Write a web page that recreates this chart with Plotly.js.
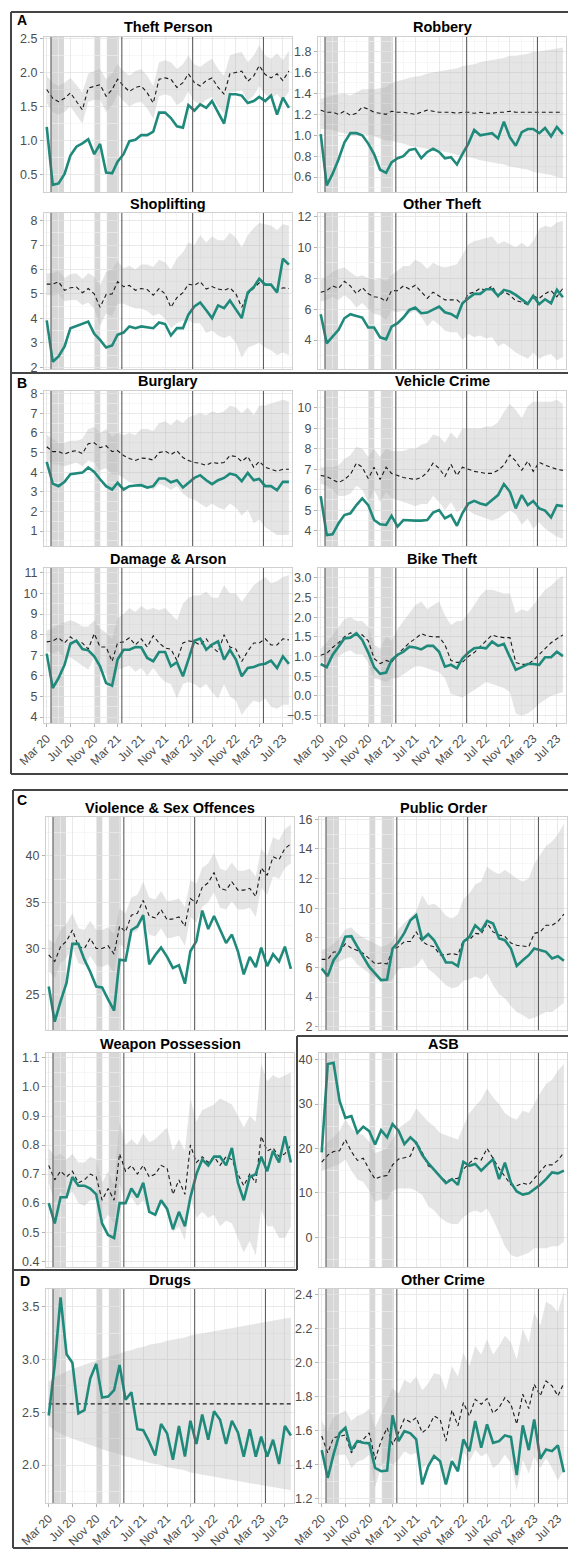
<!DOCTYPE html>
<html><head><meta charset="utf-8">
<script src="https://cdn.plot.ly/plotly-3.0.1.min.js"></script>
<style>html,body{margin:0;padding:0;background:#fff}#chart{width:568px;height:1550px}</style>
</head><body><div id="chart"></div>
<script>
const months = ['2020-03-01','2020-04-01','2020-05-01','2020-06-01','2020-07-01','2020-08-01','2020-09-01','2020-10-01','2020-11-01','2020-12-01',
 '2021-01-01','2021-02-01','2021-03-01','2021-04-01','2021-05-01','2021-06-01','2021-07-01','2021-08-01','2021-09-01','2021-10-01','2021-11-01','2021-12-01',
 '2022-01-01','2022-02-01','2022-03-01','2022-04-01','2022-05-01','2022-06-01','2022-07-01','2022-08-01','2022-09-01','2022-10-01','2022-11-01','2022-12-01',
 '2023-01-01','2023-02-01','2023-03-01','2023-04-01','2023-05-01','2023-06-01','2023-07-01','2023-08-01'];
const xTickVals = ['2020-03-01','2020-07-01','2020-11-01','2021-03-01','2021-07-01','2021-11-01','2022-03-01','2022-07-01','2022-11-01','2023-03-01','2023-07-01'];
const xTickText = ['Mar 20','Jul 20','Nov 20','Mar 21','Jul 21','Nov 21','Mar 22','Jul 22','Nov 22','Mar 23','Jul 23'];
const xMinorVals = ['2020-05-01','2020-09-01','2021-01-01','2021-05-01','2021-09-01','2022-01-01','2022-05-01','2022-09-01','2023-01-01','2023-05-01'];
const lockdownStart = ['2020-03-23','2020-11-05','2021-01-06'];
const lockdownEnd = ['2020-05-29','2020-12-02','2021-03-08'];
const markerDates = ['2020-03-23','2021-03-23','2022-03-23','2023-03-23'];

const theftPersonObs = [1.20,0.35,0.37,0.51,0.78,0.91,0.96,1.02,0.80,0.95,0.53,0.52,0.69,0.80,0.99,1.01,1.08,1.08,1.13,1.41,1.41,1.33,1.21,1.19,1.52,1.44,1.53,1.48,1.58,1.41,1.25,1.68,1.68,1.66,1.55,1.58,1.64,1.58,1.66,1.38,1.63,1.48];
const theftPersonPred = [1.75,1.62,1.57,1.62,1.70,1.58,1.45,1.77,1.80,1.82,1.65,1.75,1.90,1.80,1.72,1.78,1.80,1.70,1.55,1.90,1.92,1.90,1.78,1.85,1.98,1.85,1.80,1.88,1.92,1.78,1.68,1.98,2.00,2.02,1.87,1.95,2.10,1.97,1.92,1.98,1.88,2.02];
const theftPersonHi = [1.95,1.85,1.80,1.85,1.92,1.82,1.70,1.98,2.02,2.05,1.90,1.98,2.12,2.02,1.95,2.02,2.05,1.95,1.80,2.15,2.18,2.15,2.05,2.12,2.25,2.12,2.08,2.15,2.20,2.05,1.95,2.25,2.28,2.30,2.15,2.25,2.40,2.25,2.20,2.28,2.18,2.32];
const theftPersonLo = [1.55,1.42,1.38,1.42,1.50,1.38,1.25,1.57,1.60,1.60,1.42,1.52,1.68,1.58,1.50,1.55,1.57,1.47,1.32,1.65,1.68,1.65,1.52,1.58,1.72,1.58,1.52,1.60,1.64,1.50,1.40,1.70,1.72,1.74,1.58,1.66,1.80,1.68,1.62,1.68,1.58,1.72];

const robberyObs = [1.01,0.52,0.63,0.77,0.93,1.02,1.02,1.00,0.92,0.82,0.67,0.64,0.74,0.78,0.80,0.86,0.87,0.78,0.84,0.87,0.84,0.78,0.79,0.72,0.82,0.92,1.05,1.00,1.01,1.02,0.97,1.13,0.98,0.90,1.03,1.06,1.06,1.02,1.07,0.99,1.08,1.01];
const robberyPred = [1.24,1.22,1.22,1.20,1.23,1.19,1.21,1.27,1.25,1.22,1.21,1.20,1.23,1.22,1.22,1.21,1.20,1.22,1.24,1.23,1.22,1.22,1.22,1.21,1.22,1.22,1.21,1.22,1.21,1.21,1.22,1.22,1.23,1.22,1.22,1.22,1.22,1.22,1.22,1.22,1.22,1.22];
const robberyHi = [1.35,1.36,1.38,1.39,1.40,1.38,1.41,1.44,1.44,1.44,1.45,1.46,1.50,1.52,1.53,1.55,1.56,1.57,1.59,1.60,1.61,1.62,1.63,1.64,1.66,1.67,1.68,1.70,1.71,1.72,1.73,1.74,1.76,1.76,1.77,1.78,1.80,1.80,1.81,1.82,1.83,1.84];
const robberyLo = [1.06,1.06,1.05,1.03,1.02,1.00,1.00,1.02,1.00,0.99,0.97,0.95,0.95,0.93,0.92,0.90,0.89,0.88,0.87,0.86,0.85,0.84,0.83,0.81,0.80,0.79,0.78,0.76,0.75,0.74,0.73,0.72,0.70,0.69,0.68,0.67,0.65,0.64,0.63,0.62,0.60,0.59];

const shopliftingObs = [3.92,2.23,2.44,2.85,3.60,3.70,3.78,3.87,3.37,3.12,2.81,2.89,3.33,3.42,3.67,3.60,3.67,3.63,3.60,3.83,3.77,3.30,3.60,3.60,4.15,4.49,4.65,4.33,4.01,4.53,4.42,4.73,4.38,4.01,5.06,5.28,5.62,5.38,5.38,5.06,6.44,6.20];
const shopliftingPred = [5.40,5.40,5.50,5.15,5.25,5.28,5.05,5.22,5.00,4.45,4.98,5.00,5.50,5.30,5.35,5.15,5.22,5.18,4.95,5.22,5.00,4.45,4.85,5.05,5.40,5.35,5.50,5.20,5.30,5.20,5.15,5.25,5.00,4.45,5.00,5.25,5.45,5.40,5.35,5.15,5.25,5.22];
const shopliftingHi = [5.85,5.85,5.95,5.65,5.80,5.85,5.60,5.85,5.70,5.35,5.90,6.00,6.35,6.05,6.15,6.00,6.20,6.20,6.10,6.40,6.30,6.00,6.45,6.70,7.10,7.00,7.40,7.10,7.35,7.20,7.20,7.50,7.30,6.90,7.40,7.70,7.90,7.85,7.80,7.60,7.85,7.80];
const shopliftingLo = [4.95,4.95,5.00,4.70,4.75,4.75,4.55,4.65,4.40,3.70,4.20,4.10,4.60,4.60,4.50,4.40,4.40,4.30,4.10,4.20,4.00,3.60,3.80,3.90,3.90,3.80,3.80,3.40,3.50,3.30,3.20,3.30,3.00,2.40,2.80,2.90,3.00,2.80,2.70,2.50,2.60,2.50];

const otherTheftObs = [5.67,3.79,4.22,4.66,5.41,5.67,5.56,5.46,4.81,4.81,4.18,4.05,4.87,5.09,5.46,5.95,6.10,5.74,5.78,5.95,6.17,5.80,5.69,5.46,6.38,6.71,6.99,6.99,7.29,7.29,6.86,7.25,7.14,6.92,6.60,6.34,6.86,6.32,6.64,6.38,7.25,6.77];
const otherTheftPred = [7.10,7.20,7.50,7.35,7.80,7.50,7.00,7.40,7.00,6.80,6.75,6.50,7.20,7.20,7.50,7.30,7.55,7.15,6.70,7.10,6.85,6.60,6.60,6.60,6.30,7.00,7.10,7.35,7.20,7.50,6.80,7.15,6.90,6.55,6.45,6.30,6.85,6.70,7.00,7.20,6.80,7.35];
const otherTheftHi = [7.90,8.10,8.40,8.60,8.70,8.40,8.10,8.20,8.00,7.90,8.00,7.80,8.20,8.50,8.80,8.80,9.20,9.00,8.60,9.00,8.80,8.70,8.80,8.90,9.50,10.20,10.40,10.50,10.60,10.70,10.20,10.40,10.20,10.00,10.30,10.00,10.40,11.20,11.40,11.30,11.60,11.70];
const otherTheftLo = [6.50,6.60,6.80,6.60,6.90,6.60,6.10,6.40,6.00,5.70,5.60,5.30,5.90,5.80,5.90,5.70,5.90,5.50,4.90,5.30,5.00,4.60,4.50,4.50,4.00,4.40,4.20,4.30,4.10,4.20,3.60,3.80,3.50,3.20,3.00,2.80,3.20,2.80,3.00,3.10,2.70,2.90];

const burglaryObs = [4.53,3.42,3.29,3.51,3.90,3.93,3.98,4.24,4.02,3.64,3.29,3.12,3.46,3.12,3.29,3.32,3.34,3.22,3.29,3.68,3.68,3.49,3.59,3.22,3.46,3.71,3.85,3.59,3.39,3.59,3.71,3.93,3.85,3.54,3.97,3.59,3.66,3.29,3.29,3.08,3.51,3.51];
const burglaryPred = [5.30,5.05,5.05,4.92,5.05,5.10,4.95,5.45,5.50,5.25,5.35,5.05,5.10,4.85,4.70,4.60,4.72,4.70,4.62,5.00,5.08,4.90,5.10,4.75,4.60,4.50,4.45,4.35,4.50,4.45,4.50,4.85,4.80,4.55,4.80,4.25,4.55,4.25,4.15,4.05,4.15,4.15];
const burglaryHi = [5.90,5.70,5.50,5.50,5.60,5.60,5.70,6.20,6.30,6.00,6.20,5.80,6.00,5.90,6.00,5.90,6.20,6.20,6.10,6.50,6.60,6.40,6.70,6.50,6.80,6.90,7.00,6.90,7.10,7.00,7.10,7.40,7.30,7.00,7.30,6.90,7.40,7.40,7.50,7.60,7.70,7.60];
const burglaryLo = [4.60,4.40,4.40,4.30,4.40,4.50,4.30,4.60,4.50,4.10,4.20,3.90,3.90,3.70,3.50,3.40,3.40,3.30,3.10,3.40,3.30,3.10,3.30,2.90,2.70,2.60,2.40,2.20,2.40,2.20,2.10,2.40,2.20,1.80,2.10,1.40,1.60,1.20,1.00,0.80,0.80,0.80];

const vehicleObs = [5.69,3.79,3.82,4.36,4.76,4.85,5.25,5.58,5.25,4.52,4.31,4.28,4.72,4.20,4.52,4.49,4.49,4.49,4.52,4.88,5.01,4.60,4.76,4.24,4.85,5.33,5.46,5.33,5.25,5.50,5.74,6.28,5.90,5.09,5.74,5.25,5.45,5.09,4.98,4.65,5.25,5.20];
const vehiclePred = [6.70,6.65,6.50,6.35,6.50,6.75,7.30,7.10,6.55,7.10,6.50,7.10,6.80,6.70,6.60,6.55,6.50,6.60,6.85,7.30,7.05,6.65,7.25,6.70,7.10,7.00,6.90,6.85,6.80,6.80,6.95,7.20,7.70,7.40,6.95,7.40,6.90,7.35,7.20,7.10,7.00,6.95];
const vehicleHi = [7.10,7.10,7.10,7.20,7.50,7.70,8.10,8.00,7.60,8.00,7.60,8.00,7.90,7.90,7.90,8.00,8.00,8.20,8.30,8.70,8.60,8.30,8.80,8.50,9.00,9.00,9.00,9.00,9.10,9.10,9.30,9.80,10.20,9.90,9.50,10.10,10.30,10.30,10.30,10.30,10.40,10.20];
const vehicleLo = [6.30,6.20,6.00,5.70,5.70,5.80,6.20,6.00,5.40,6.00,5.40,5.90,5.60,5.50,5.40,5.30,5.20,5.30,5.30,5.70,5.40,5.00,5.40,4.90,5.10,5.00,4.80,4.70,4.60,4.50,4.60,4.80,5.00,4.80,4.30,4.60,4.10,4.40,4.10,3.90,3.70,3.60];

const damageObs = [7.08,5.41,5.89,6.54,7.56,7.71,7.30,7.24,6.95,6.46,5.65,5.52,6.79,7.27,7.27,7.40,7.39,6.87,6.71,7.16,7.16,6.46,6.66,5.98,6.79,7.71,7.81,7.27,7.52,7.68,6.79,7.27,6.79,5.98,6.38,6.43,6.54,6.59,6.74,6.38,6.95,6.58];
const damagePred = [7.65,7.70,7.85,7.60,7.90,7.65,7.60,7.30,8.05,7.40,7.40,6.70,7.60,7.65,7.85,7.50,7.80,7.40,7.95,7.60,7.35,7.30,6.75,7.60,7.70,7.65,7.50,7.80,7.40,7.15,8.00,7.40,7.30,6.70,7.20,7.60,7.60,7.80,7.50,7.50,7.80,7.75];
const damageHi = [8.20,8.30,8.50,8.60,8.70,8.60,8.40,8.40,8.70,8.30,8.10,7.80,8.80,9.00,9.30,9.10,9.40,9.20,9.30,9.20,9.30,9.00,8.70,9.50,9.80,9.90,9.90,10.10,9.80,9.80,10.40,10.00,10.00,9.60,10.00,10.40,10.60,10.80,10.50,10.60,10.80,10.90];
const damageLo = [7.20,7.10,7.20,6.80,6.90,6.70,6.50,6.30,6.90,6.20,6.10,5.40,6.30,6.40,6.50,6.20,6.40,6.00,6.40,6.00,5.70,5.60,4.90,5.60,5.70,5.60,5.40,5.60,5.20,4.90,5.60,5.00,4.80,4.10,4.50,4.80,4.70,4.90,4.50,4.40,4.60,4.60];

const bikeObs = [0.81,0.73,1.04,1.27,1.46,1.48,1.59,1.42,1.10,0.73,0.56,0.59,0.91,1.04,1.12,1.25,1.23,1.18,1.27,1.27,1.12,0.74,0.79,0.70,0.95,1.10,1.21,1.23,1.21,1.38,1.27,1.32,1.00,0.66,0.73,0.81,0.81,0.79,0.98,0.98,1.12,1.01];
const bikePred = [1.03,1.08,1.23,1.35,1.50,1.60,1.55,1.55,1.40,0.95,0.82,0.90,0.85,1.05,1.20,1.35,1.45,1.58,1.52,1.50,1.50,1.30,0.90,0.85,0.85,1.00,1.10,1.25,1.40,1.55,1.50,1.48,1.48,0.85,0.80,0.80,0.90,1.05,1.20,1.35,1.45,1.55];
const bikeHi = [1.20,1.35,1.55,1.75,1.95,2.00,1.90,1.90,1.75,1.30,1.20,1.50,1.40,1.70,1.90,2.10,2.30,2.40,2.20,2.30,2.40,2.05,1.80,1.90,1.90,2.10,2.30,2.55,2.70,2.70,2.65,2.60,2.60,2.10,2.20,2.15,2.30,2.50,2.70,2.80,2.95,3.05];
const bikeLo = [0.85,0.85,0.95,1.00,1.10,1.15,1.05,1.05,0.85,0.45,0.40,0.35,0.45,0.45,0.55,0.65,0.75,0.75,0.70,0.65,0.60,0.45,0.05,0.00,-0.05,0.05,0.15,0.25,0.35,0.30,0.25,0.20,0.10,-0.45,-0.50,-0.45,-0.35,-0.20,-0.10,0.00,0.05,0.10];

const violenceObs = [25.9,22.1,24.3,26.3,30.5,30.5,28.8,27.5,25.9,25.8,24.5,23.3,28.8,28.7,32.0,32.4,33.6,28.3,29.3,30.1,29.1,27.9,28.2,26.2,29.7,30.8,34.1,32.1,33.5,32.0,30.6,31.5,29.7,27.2,29.1,28.0,30.1,28.1,29.4,28.6,30.2,27.8];
const violencePred = [29.3,28.6,30.2,30.8,32.0,30.2,30.0,31.1,30.0,30.0,30.3,29.4,32.4,31.8,33.6,33.8,35.2,33.5,33.3,34.2,33.1,33.2,33.4,32.4,35.4,34.9,36.6,37.1,38.2,36.5,36.3,37.2,36.3,36.3,36.5,35.6,38.7,37.9,39.9,39.6,40.8,41.3];
const violenceHi = [31.0,30.5,32.0,32.7,33.8,32.2,32.0,33.0,32.0,32.0,32.3,31.5,34.3,33.8,35.5,35.8,37.2,35.5,35.3,36.2,35.1,35.2,35.4,34.5,37.4,37.0,38.7,39.2,40.3,38.6,38.4,39.3,38.4,38.4,38.6,37.8,40.8,40.0,42.0,41.7,42.9,43.4];
const violenceLo = [27.6,26.8,28.4,29.0,30.2,28.4,28.2,29.2,28.2,28.0,28.3,27.4,30.5,29.9,31.7,31.9,33.2,31.5,31.3,32.2,31.1,31.2,31.4,30.3,33.4,32.8,34.5,35.0,36.1,34.4,34.2,35.1,34.2,34.2,34.4,33.4,36.6,35.8,37.8,37.5,38.7,39.2];

const publicOrderObs = [5.93,5.42,6.49,7.06,8.07,8.11,7.39,6.72,6.04,5.60,5.15,5.19,7.28,7.73,8.34,9.19,9.53,7.89,8.25,7.84,7.06,6.34,6.34,6.09,7.73,8.07,8.85,8.47,9.15,8.97,7.96,7.84,7.28,6.11,6.49,6.83,7.28,7.17,7.06,6.61,6.76,6.45];
const publicOrderPred = [6.55,6.55,7.05,7.05,7.60,7.30,7.15,6.95,6.60,6.25,6.30,6.25,7.20,7.40,7.75,7.75,8.40,7.75,7.50,7.40,6.85,6.85,6.95,6.85,7.85,7.85,8.30,8.25,9.00,8.40,8.20,8.10,7.65,7.50,7.45,7.40,8.30,8.40,8.85,8.85,9.10,9.60];
const publicOrderHi = [7.20,7.30,7.60,8.00,8.60,8.70,8.30,8.00,7.80,7.60,7.40,7.50,7.80,8.60,9.00,9.40,9.80,10.90,10.20,10.30,10.00,9.50,9.30,9.60,10.60,11.00,11.60,11.80,12.80,12.50,12.30,12.60,12.30,12.00,11.80,12.00,13.00,13.60,14.20,14.50,15.00,15.70];
const publicOrderLo = [5.80,5.70,6.30,6.40,6.60,6.70,6.20,5.90,5.60,5.30,5.00,5.00,5.20,5.90,6.00,6.00,6.10,6.60,5.90,5.60,5.20,4.80,4.60,4.70,5.10,5.20,5.40,5.20,5.60,4.80,4.20,3.90,3.40,3.00,2.80,2.50,2.60,2.80,3.00,3.00,3.30,3.60];

const weaponObs = [0.60,0.53,0.62,0.62,0.69,0.66,0.66,0.65,0.63,0.53,0.49,0.48,0.60,0.60,0.65,0.62,0.67,0.57,0.56,0.61,0.58,0.51,0.57,0.52,0.62,0.70,0.75,0.73,0.76,0.76,0.73,0.79,0.67,0.61,0.69,0.70,0.76,0.71,0.78,0.74,0.83,0.74];
const weaponPred = [0.73,0.68,0.71,0.69,0.71,0.67,0.68,0.70,0.69,0.61,0.65,0.61,0.77,0.71,0.73,0.70,0.73,0.69,0.70,0.73,0.72,0.63,0.68,0.63,0.80,0.74,0.76,0.74,0.76,0.73,0.76,0.75,0.70,0.66,0.70,0.67,0.83,0.78,0.79,0.76,0.77,0.80];
const weaponHi = [0.79,0.76,0.77,0.75,0.77,0.74,0.74,0.76,0.75,0.67,0.71,0.66,0.88,0.80,0.82,0.80,0.84,0.81,0.82,0.84,0.86,0.78,0.82,0.78,0.96,0.88,0.92,0.93,0.94,0.96,0.95,0.94,0.90,0.86,0.90,0.88,1.08,1.02,1.04,1.03,1.04,1.05];
const weaponLo = [0.67,0.60,0.64,0.62,0.64,0.60,0.59,0.61,0.61,0.53,0.56,0.53,0.67,0.60,0.62,0.59,0.61,0.57,0.57,0.60,0.58,0.50,0.52,0.47,0.62,0.55,0.57,0.55,0.56,0.52,0.54,0.53,0.48,0.43,0.47,0.42,0.58,0.52,0.52,0.48,0.48,0.52];

const asbObs = [19.1,39.0,39.3,30.7,26.9,27.3,23.5,24.9,23.9,20.9,24.1,22.5,25.5,24.0,21.0,22.5,21.3,18.5,16.7,15.2,13.7,12.2,13.1,11.8,17.0,16.1,16.5,15.0,16.3,17.6,13.1,16.8,12.3,10.3,9.6,9.9,10.8,11.8,13.1,14.6,14.4,15.0];
const asbPred = [16.9,18.5,19.3,19.5,22.0,19.3,17.3,17.8,15.2,13.1,13.7,13.9,16.3,17.6,17.9,18.3,21.5,19.1,16.1,15.3,13.7,12.6,13.1,13.3,15.3,16.7,17.8,17.4,20.0,17.8,15.5,13.7,11.8,11.6,12.2,11.8,13.3,14.8,16.3,16.3,17.3,19.1];
const asbHi = [19.5,21.5,22.5,24.0,26.5,24.5,23.5,23.0,21.5,19.0,19.5,20.0,22.0,24.5,25.5,26.5,29.0,27.5,26.0,25.0,23.5,23.0,22.5,22.0,25.0,28.0,29.5,31.0,33.5,31.5,30.0,28.0,27.0,26.5,28.5,28.0,30.0,32.5,34.5,35.5,37.5,39.0];
const asbLo = [15.0,15.5,16.0,16.5,17.5,15.0,13.0,12.5,10.5,8.0,8.5,8.5,10.5,11.0,11.0,11.0,10.5,9.5,7.0,6.0,4.5,3.5,3.0,3.0,4.5,5.5,6.0,5.5,6.5,4.0,1.0,-2.0,-4.0,-4.5,-4.0,-3.5,-2.5,-2.5,-2.5,-2.0,-2.0,-1.0];

const drugsObs = [2.47,2.95,3.59,3.05,2.97,2.49,2.52,2.82,2.96,2.64,2.65,2.71,2.95,2.62,2.69,2.34,2.33,2.22,2.09,2.39,2.30,2.05,2.37,2.08,2.42,2.20,2.48,2.24,2.51,2.43,2.20,2.42,2.31,2.08,2.34,2.08,2.27,2.08,2.24,2.01,2.37,2.28];
const drugsPred = [2.58,2.58,2.58,2.58,2.58,2.58,2.58,2.58,2.58,2.58,2.58,2.58,2.58,2.58,2.58,2.58,2.58,2.58,2.58,2.58,2.58,2.58,2.58,2.58,2.58,2.58,2.58,2.58,2.58,2.58,2.58,2.58,2.58,2.58,2.58,2.58,2.58,2.58,2.58,2.58,2.58,2.58];
const drugsHi = [2.79,2.83,2.86,2.89,2.91,2.93,2.95,2.97,2.99,3.01,3.03,3.04,3.06,3.08,3.09,3.11,3.12,3.14,3.15,3.16,3.18,3.19,3.20,3.21,3.23,3.24,3.25,3.26,3.27,3.28,3.29,3.30,3.31,3.32,3.33,3.34,3.35,3.36,3.37,3.38,3.39,3.40];
const drugsLo = [2.37,2.33,2.30,2.27,2.25,2.23,2.21,2.19,2.17,2.15,2.13,2.12,2.10,2.08,2.07,2.05,2.04,2.02,2.01,2.00,1.98,1.97,1.96,1.95,1.93,1.92,1.91,1.90,1.89,1.88,1.87,1.86,1.85,1.84,1.83,1.82,1.81,1.80,1.79,1.78,1.77,1.76];

const otherCrimeObs = [1.487,1.324,1.462,1.586,1.619,1.487,1.540,1.530,1.527,1.383,1.363,1.367,1.692,1.540,1.599,1.586,1.550,1.285,1.393,1.452,1.422,1.285,1.422,1.363,1.550,1.481,1.658,1.501,1.639,1.530,1.540,1.574,1.564,1.340,1.633,1.487,1.668,1.436,1.491,1.481,1.515,1.357];
const otherCrimePred = [1.570,1.471,1.560,1.570,1.576,1.471,1.530,1.550,1.589,1.432,1.540,1.619,1.520,1.589,1.672,1.652,1.678,1.589,1.619,1.688,1.668,1.540,1.723,1.629,1.767,1.688,1.786,1.757,1.790,1.704,1.737,1.796,1.757,1.639,1.816,1.731,1.875,1.806,1.894,1.865,1.806,1.881];
const otherCrimeHi = [1.66,1.60,1.68,1.70,1.72,1.66,1.69,1.70,1.73,1.62,1.70,1.78,1.85,1.82,1.90,1.88,1.92,1.84,1.88,1.94,1.93,1.84,1.98,1.92,2.06,1.98,2.10,2.05,2.14,2.05,2.10,2.16,2.12,2.02,2.20,2.12,2.30,2.22,2.36,2.34,2.30,2.42];
const otherCrimeLo = [1.46,1.37,1.45,1.46,1.46,1.38,1.42,1.43,1.46,1.27,1.39,1.45,1.40,1.43,1.48,1.46,1.47,1.38,1.41,1.46,1.43,1.30,1.45,1.37,1.48,1.42,1.49,1.45,1.47,1.38,1.41,1.46,1.41,1.25,1.43,1.35,1.45,1.38,1.44,1.38,1.31,1.37];

// ---- layout geometry (pixels) ----
const W = 568, H = 1550;
const FONT = '"Liberation Sans", Arial, Helvetica, sans-serif';
const xRange = ['2020-02-16', '2023-08-17'];
const L1 = [44, 292], R1 = [318, 566], L2 = [46, 294], R2 = [319, 567];
const row1 = [37, 192], row2 = [213, 369], row3 = [391, 546], row4 = [568, 723];
const row5 = [817, 1030], row6 = [1053, 1267], row7 = [1289, 1503];

const panels = [
  {t:'Theft Person', obs:theftPersonObs, pred:theftPersonPred, hi:theftPersonHi, lo:theftPersonLo, xd:L1, yd:row1, range:[0.245,2.52], dt:0.5, fmt:'.1f', showX:false},
  {t:'Robbery', obs:robberyObs, pred:robberyPred, hi:robberyHi, lo:robberyLo, xd:R1, yd:row1, range:[0.457,1.94], dt:0.2, fmt:'.1f', showX:false},
  {t:'Shoplifting', obs:shopliftingObs, pred:shopliftingPred, hi:shopliftingHi, lo:shopliftingLo, xd:L1, yd:row2, range:[1.93,8.31], dt:1, fmt:'d', showX:false},
  {t:'Other Theft', obs:otherTheftObs, pred:otherTheftPred, hi:otherTheftHi, lo:otherTheftLo, xd:R1, yd:row2, range:[2.13,12.22], dt:2, fmt:'d', showX:false},
  {t:'Burglary', obs:burglaryObs, pred:burglaryPred, hi:burglaryHi, lo:burglaryLo, xd:L1, yd:row3, range:[0.24,8.14], dt:1, fmt:'d', showX:false},
  {t:'Vehicle Crime', obs:vehicleObs, pred:vehiclePred, hi:vehicleHi, lo:vehicleLo, xd:R1, yd:row3, range:[3.25,10.83], dt:1, fmt:'d', showX:false},
  {t:'Damage & Arson', obs:damageObs, pred:damagePred, hi:damageHi, lo:damageLo, xd:L1, yd:row4, range:[3.71,11.24], dt:1, fmt:'d', showX:true},
  {t:'Bike Theft', obs:bikeObs, pred:bikePred, hi:bikeHi, lo:bikeLo, xd:R1, yd:row4, range:[-0.69,3.25], dt:0.5, fmt:'.1f', showX:true},
  {t:'Violence & Sex Offences', obs:violenceObs, pred:violencePred, hi:violenceHi, lo:violenceLo, xd:L2, yd:row5, range:[21.2,44.2], dt:5, fmt:'d', showX:false},
  {t:'Public Order', obs:publicOrderObs, pred:publicOrderPred, hi:publicOrderHi, lo:publicOrderLo, xd:R2, yd:row5, range:[1.78,16.16], dt:2, fmt:'d', showX:false},
  {t:'Weapon Possession', obs:weaponObs, pred:weaponPred, hi:weaponHi, lo:weaponLo, xd:L2, yd:row6, range:[0.38,1.117], dt:0.1, fmt:'.1f', showX:false},
  {t:'ASB', obs:asbObs, pred:asbPred, hi:asbHi, lo:asbLo, xd:R2, yd:row6, range:[-6.7,41.5], dt:10, fmt:'d', showX:false},
  {t:'Drugs', obs:drugsObs, pred:drugsPred, hi:drugsHi, lo:drugsLo, xd:L2, yd:row7, range:[1.64,3.67], dt:0.5, fmt:'.1f', showX:true},
  {t:'Other Crime', obs:otherCrimeObs, pred:otherCrimePred, hi:otherCrimeHi, lo:otherCrimeLo, xd:R2, yd:row7, range:[1.176,2.435], dt:0.2, fmt:'.1f', showX:true}
];

const data = [], shapes = [], annotations = [];
const layout = {
  width: W, height: H, margin: {l:0, r:0, t:0, b:0},
  paper_bgcolor: '#ffffff', plot_bgcolor: '#ffffff', showlegend: false,
  font: {family: FONT, size: 12, color: '#4d4d4d'},
  shapes: shapes, annotations: annotations
};

const monthsBack = months.slice().reverse();
panels.forEach((p, i) => {
  const n = i + 1, sfx = n === 1 ? '' : String(n);
  const xa = 'x' + sfx, ya = 'y' + sfx;
  layout['xaxis' + sfx] = {
    type: 'date', domain: [p.xd[0] / W, p.xd[1] / W], range: xRange, anchor: ya,
    tickmode: 'array', tickvals: xTickVals, ticktext: xTickText,
    showticklabels: p.showX, ticks: p.showX ? 'outside' : '', ticklen: 3, tickcolor: '#b3b3b3',
    tickangle: -45, tickfont: {family: FONT, size: 12, color: '#4d4d4d'},
    showgrid: true, gridcolor: '#e4e4e4', gridwidth: 0.8,
    minor: {tickmode: 'array', tickvals: xMinorVals, showgrid: true, gridcolor: '#f2f2f2', gridwidth: 0.6},
    showline: true, mirror: true, linecolor: '#d0d0d0', linewidth: 1, zeroline: false, fixedrange: true
  };
  layout['yaxis' + sfx] = {
    domain: [1 - p.yd[1] / H, 1 - p.yd[0] / H], range: p.range, anchor: xa,
    tickmode: 'linear', tick0: 0, dtick: p.dt, tickformat: p.fmt,
    ticks: 'outside', ticklen: 3, tickcolor: '#b3b3b3',
    tickfont: {family: FONT, size: 12.5, color: '#4d4d4d'},
    showgrid: true, gridcolor: '#e4e4e4', gridwidth: 0.8,
    minor: {tickmode: 'linear', tick0: 0, dtick: p.dt / 2, showgrid: true, gridcolor: '#f2f2f2', gridwidth: 0.6},
    showline: true, mirror: true, linecolor: '#d0d0d0', linewidth: 1, zeroline: false, fixedrange: true
  };
  data.push({type:'scatter', mode:'lines', x: months.concat(monthsBack), y: p.hi.concat(p.lo.slice().reverse()),
    fill:'toself', fillcolor:'rgba(175,175,175,0.33)', line:{width:0, color:'rgba(0,0,0,0)'},
    xaxis: xa, yaxis: ya, hoverinfo:'skip'});
  data.push({type:'scatter', mode:'lines', x: months, y: p.pred,
    line:{color:'#1a1a1a', width:1.1, dash:'4px,3px'}, xaxis: xa, yaxis: ya});
  data.push({type:'scatter', mode:'lines', x: months, y: p.obs,
    line:{color:'#1f8a7b', width:2.6}, xaxis: xa, yaxis: ya});
  lockdownStart.forEach((s, j) => shapes.push({type:'rect', xref: xa, yref: ya + ' domain',
    x0: s, x1: lockdownEnd[j], y0: 0, y1: 1, fillcolor:'rgba(150,150,150,0.38)', line:{width:0}, layer:'below'}));
  markerDates.forEach(d => shapes.push({type:'line', xref: xa, yref: ya + ' domain',
    x0: d, x1: d, y0: 0, y1: 1, line:{color:'#5e5e5e', width:1.1}, layer:'above'}));
  annotations.push({xref:'paper', yref:'paper', x: (p.xd[0] + p.xd[1]) / 2 / W, y: 1 - (p.yd[0] - 9.5) / H,
    text: '<b>' + p.t + '</b>', showarrow: false, xanchor:'center', yanchor:'middle',
    font:{family: FONT, size: 14.5, color:'#000000'}});
});

// section letters
const sectionLetters = [['A', 22, 20.5], ['B', 21.5, 383], ['C', 22, 800], ['D', 25, 1281]];
sectionLetters.forEach(s => annotations.push({xref:'paper', yref:'paper', x: s[1] / W, y: 1 - s[2] / H,
  text:'<b>' + s[0] + '</b>', showarrow:false, xanchor:'center', yanchor:'middle',
  font:{family: FONT, size: 14, color:'#000000'}}));

// section box outlines
const boxLines = [[11,12,568,12],[11,12,11,774],[11,373,568,373],[11,774,568,774],
  [13,790,568,790],[13,790,13,1548],[13,1270,297,1270],[297,1036,297,1270],[297,1036,568,1036],[13,1548,568,1548]];
boxLines.forEach(b => shapes.push({type:'line', xref:'paper', yref:'paper',
  x0: b[0] / W, y0: 1 - b[1] / H, x1: b[2] / W, y1: 1 - b[3] / H, line:{color:'#444444', width:2}, layer:'above'}));

Plotly.newPlot('chart', data, layout, {staticPlot: true, displayModeBar: false});
</script>
</body></html>
